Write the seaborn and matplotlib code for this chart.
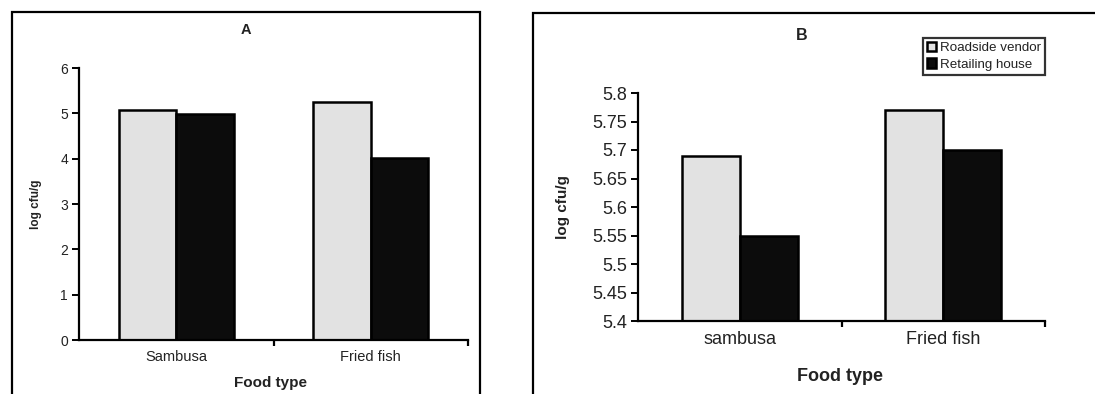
import matplotlib
matplotlib.use("Agg")
import matplotlib.pyplot as plt
import matplotlib.patches as mpatches
from matplotlib.ticker import FormatStrFormatter, FixedLocator
import seaborn as sns
import pandas as pd

# ---- data ----
series_names = ["Roadside vendor", "Retailing house"]
categories_A = ["Sambusa", "Fried fish"]
roadside_A = [5.08, 5.26]
retail_A = [4.99, 4.01]
categories_B = ["sambusa", "Fried fish"]
roadside_B = [5.69, 5.77]
retail_B = [5.55, 5.70]
yticks_A = [0, 1, 2, 3, 4, 5, 6]
yticks_B = [5.4, 5.45, 5.5, 5.55, 5.6, 5.65, 5.7, 5.75, 5.8]


def long_df(cats, s1, s2):
    rows = []
    for c, v in zip(cats, s1):
        rows.append({"food": c, "vendor": series_names[0], "value": v})
    for c, v in zip(cats, s2):
        rows.append({"food": c, "vendor": series_names[1], "value": v})
    return pd.DataFrame(rows)


dfA = long_df(categories_A, roadside_A, retail_A)
dfB = long_df(categories_B, roadside_B, retail_B)

sns.set_theme(style="white")
plt.rcParams["font.family"] = ["Liberation Sans", "DejaVu Sans"]

W, H = 1095, 394
fig = plt.figure(figsize=(W / 100, H / 100), dpi=100)
palette = ["#e2e2e2", "#0c0c0c"]


def px_axes(l, r, t, b):
    return fig.add_axes([l / W, 1 - b / H, (r - l) / W, (b - t) / H])


axA = px_axes(79, 468, 68, 340)
axB = px_axes(638, 1045, 93, 321)

sns.barplot(data=dfA, x="food", y="value", hue="vendor", palette=palette,
            width=0.59, gap=0, edgecolor="black", linewidth=1.8, ax=axA,
            legend=False, saturation=1)
sns.barplot(data=dfB, x="food", y="value", hue="vendor", palette=palette,
            width=0.57, gap=0, edgecolor="black", linewidth=1.8, ax=axB,
            legend=True, saturation=1)

for ax, yt, fs_tick, fs_xt in [(axA, yticks_A, 10, 10.5), (axB, yticks_B, 13, 13)]:
    ax.set_xlim(-0.5, 1.5)
    ax.set_ylim(yt[0], yt[-1])
    ax.set_yticks(yt)
    ax.yaxis.set_major_formatter(FormatStrFormatter("%g"))
    for s in ["top", "right"]:
        ax.spines[s].set_visible(False)
    for s in ["left", "bottom"]:
        ax.spines[s].set_color("black")
        ax.spines[s].set_linewidth(1.6)
    ax.tick_params(axis="y", direction="out", length=5, width=1.4,
                   color="black", labelsize=fs_tick, left=True, pad=3,
                   labelcolor="#222222")
    ax.tick_params(axis="x", which="major", length=0, labelsize=fs_xt,
                   pad=7, labelcolor="#222222")
    ax.xaxis.set_minor_locator(FixedLocator([0.5, 1.5]))
    ax.tick_params(axis="x", which="minor", direction="out", length=4,
                   width=1.6, color="black", bottom=True)
    ax.grid(False)

axA.set_xlabel("Food type", fontsize=11, fontweight="bold", color="#222222")
axA.set_ylabel("log cfu/g", fontsize=8.5, fontweight="bold", color="#222222")
axA.xaxis.set_label_coords((271 - 79) / 389, (340 - 376) / 272)
axA.yaxis.set_label_coords((42 - 79) / 389, 0.5)

axB.set_xlabel("Food type", fontsize=13, fontweight="bold", color="#222222")
axB.set_ylabel("log cfu/g", fontsize=11, fontweight="bold", color="#222222")
axB.xaxis.set_label_coords((840 - 638) / 407, (321 - 368) / 228)
axB.yaxis.set_label_coords((570 - 638) / 407, 0.5)

fig.text(246 / W, 1 - 30 / H, "A", ha="center", va="center",
         fontsize=10.5, fontweight="bold", color="#222222")
fig.text(802 / W, 1 - 35 / H, "B", ha="center", va="center",
         fontsize=11.5, fontweight="bold", color="#222222")

# legend
leg = axB.get_legend()
handles = leg.legend_handles
leg.remove()
lg = axB.legend(handles, series_names, loc="upper right",
                bbox_to_anchor=(1045 / W, 1 - 38 / H),
                bbox_transform=fig.transFigure, frameon=True, fancybox=False,
                fontsize=9.6, handlelength=0.7, handleheight=0.7,
                handletextpad=0.3, borderpad=0.3, labelspacing=0.3,
                borderaxespad=0)
lg.get_frame().set_edgecolor("black")
lg.get_frame().set_linewidth(1.6)
for t in lg.get_texts():
    t.set_color("#222222")

# panel frames
fig.patches.append(mpatches.Rectangle((12 / W, -0.1), (480 - 12) / W,
                                      1.1 - 12 / H, transform=fig.transFigure,
                                      fill=False, edgecolor="black", linewidth=1.6))
fig.patches.append(mpatches.Rectangle((533 / W, -0.1), 0.6, 1.1 - 13 / H,
                                      transform=fig.transFigure, fill=False,
                                      edgecolor="black", linewidth=1.6))

fig.savefig("out.png", dpi=100)
